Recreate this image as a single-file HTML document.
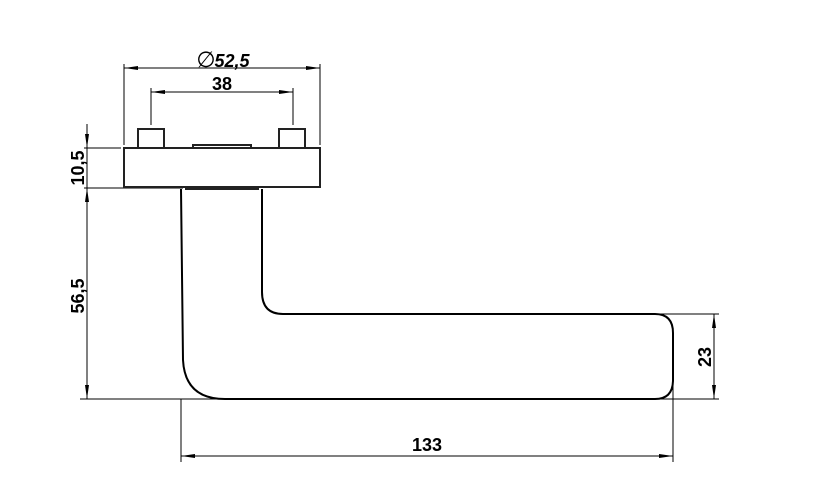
<!DOCTYPE html>
<html><head><style>html,body{margin:0;padding:0;background:#fff}svg{display:block}</style></head><body>
<svg width="813" height="497" viewBox="0 0 813 497" xmlns="http://www.w3.org/2000/svg" font-family="Liberation Sans Narrow, Liberation Sans, sans-serif" font-weight="bold">
<g fill="none" stroke="#000" stroke-width="1">
<line x1="124" y1="64" x2="124" y2="145"/>
<line x1="320" y1="64" x2="320" y2="145"/>
<line x1="151" y1="88" x2="151" y2="125"/>
<line x1="293" y1="88" x2="293" y2="125"/>
<line x1="84" y1="148" x2="121" y2="148"/>
<line x1="84" y1="188" x2="183" y2="188"/>
<line x1="80" y1="399" x2="222" y2="399"/>
<line x1="655" y1="314" x2="719" y2="314"/>
<line x1="660" y1="399" x2="719" y2="399"/>
<line x1="181" y1="399" x2="181" y2="462"/>
<line x1="673" y1="380" x2="673" y2="462"/>
<line x1="124" y1="68" x2="320" y2="68"/>
<line x1="151" y1="92" x2="293" y2="92"/>
<line x1="87" y1="124" x2="87" y2="399"/>
<line x1="181" y1="456" x2="673" y2="456"/>
<line x1="714" y1="314" x2="714" y2="399"/>
</g>
<g fill="#000">
<polygon points="124,68 138,66 138,70"/><polygon points="320,68 306,66 306,70"/>
<polygon points="151,92 165,90 165,94"/><polygon points="293,92 279,90 279,94"/>
<polygon points="87,148 85,134 89,134"/><polygon points="87,188 85,202 89,202"/>
<polygon points="87,399 85,385 89,385"/>
<polygon points="181,456 195,454 195,458"/><polygon points="673,456 659,454 659,458"/>
<polygon points="714,314 712,328 716,328"/><polygon points="714,399 712,385 716,385"/>
</g>
<g fill="#fff" stroke="#222" stroke-width="2">
<rect x="138" y="129" width="26" height="19"/>
<rect x="279" y="129" width="26" height="19"/>
<path d="M193,148 L193,145 L251,145 L251,148"/>
<rect x="124" y="148" width="196" height="39"/>
<rect x="186" y="187" width="72" height="2"/>
</g>
<path d="M181,189 L183,360 Q185,399 225,399 L655,399 Q673,399 673,380 L673,333 Q673,314 655,314 L283,314 Q262,314 262,292 L262,189" fill="none" stroke="#000" stroke-width="2"/>
<g font-size="18" text-anchor="middle">
<text x="206" y="67" font-size="22" font-weight="normal" font-family="DejaVu Sans, sans-serif" font-style="italic">∅</text>
<text x="232" y="67" font-style="italic">52,5</text>
<text x="222" y="90">38</text>
<text x="427" y="451">133</text>
<text transform="translate(84,168) rotate(-90)">10,5</text>
<text transform="translate(84,296) rotate(-90)">56,5</text>
<text transform="translate(711,357) rotate(-90)">23</text>
</g>
</svg>
</body></html>
